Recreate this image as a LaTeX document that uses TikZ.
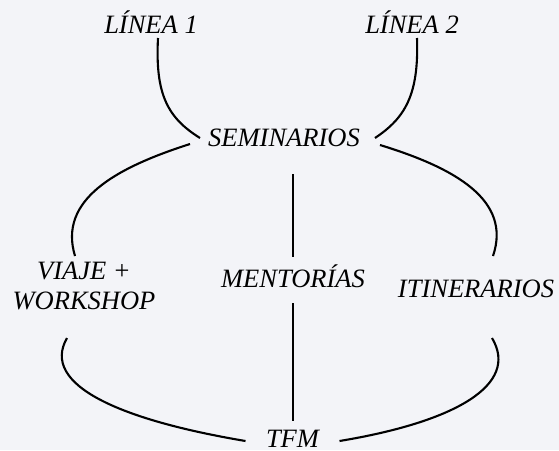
\documentclass[tikz,border=0pt]{standalone}
\usepackage{fontspec}
\setmainfont{Liberation Serif}
\usetikzlibrary{calc}
\definecolor{bgc}{RGB}{243,244,248}
\begin{document}
\begin{tikzpicture}[x=1pt,y=-1pt,
  lbl/.style={font=\fontsize{26.5}{30}\selectfont\itshape, inner sep=0pt, outer sep=0pt, anchor=base, text=black},
  link/.style={line width=2.1pt, draw=black}]
\fill[bgc] (0,0) rectangle (559,450);
\useasboundingbox (0,0) rectangle (559,450);
% nodes
\node[lbl] (l1) at (151,33) {LÍNEA 1};
\node[lbl] (l2) at (412,33) {LÍNEA 2};
\node[lbl] (sem) at (284,146) {SEMINARIOS};
\node[lbl, align=center] (vw) at (84,309) {VIAJE +\\WORKSHOP};
\node[lbl] (ment) at (293,287) {MENTORÍAS};
\node[lbl] (itin) at (476,297) {ITINERARIOS};
\node[lbl] (tfm) at (292.5,447) {TFM};
% connectors
\draw[link] ($(l1.base)+(7,5)$) .. controls ($(l1.base)+(4,62)$) and ($(sem.base)+(-116,-28)$) .. ($(sem.base)+(-84,-8)$);
\draw[link] ($(l2.base)+(5,5)$) .. controls ($(l2.base)+(7,62)$) and ($(sem.base)+(121,-28)$) .. ($(sem.base)+(91,-8)$);
\draw[link] ($(sem.base)+(-94,-2)$) .. controls ($(sem.base)+(-169,22)$) and ($(vw.base)+(-26,-109)$) .. ($(vw.base)+(-9,-53)$);
\draw[link] ($(sem.base)+(96,-1)$) .. controls ($(sem.base)+(171,22)$) and ($(itin.base)+(36,-97)$) .. ($(itin.base)+(17,-41)$);
\draw[link] ($(sem.base -| ment.base)+(0,28)$) -- ($(ment.base)+(0,-30)$);
\draw[link] ($(ment.base)+(0,16)$) -- ($(tfm.base -| ment.base)+(0,-26)$);
\draw[link] ($(vw.base)+(-17,29)$) .. controls ($(vw.base)+(-44,76)$) and ($(tfm.base)+(-172,-27)$) .. ($(tfm.base)+(-47,-6)$);
\draw[link] ($(itin.base)+(16,41)$) .. controls ($(itin.base)+(44,88)$) and ($(tfm.base)+(162,-25)$) .. ($(tfm.base)+(47,-6)$);
\end{tikzpicture}
\end{document}
